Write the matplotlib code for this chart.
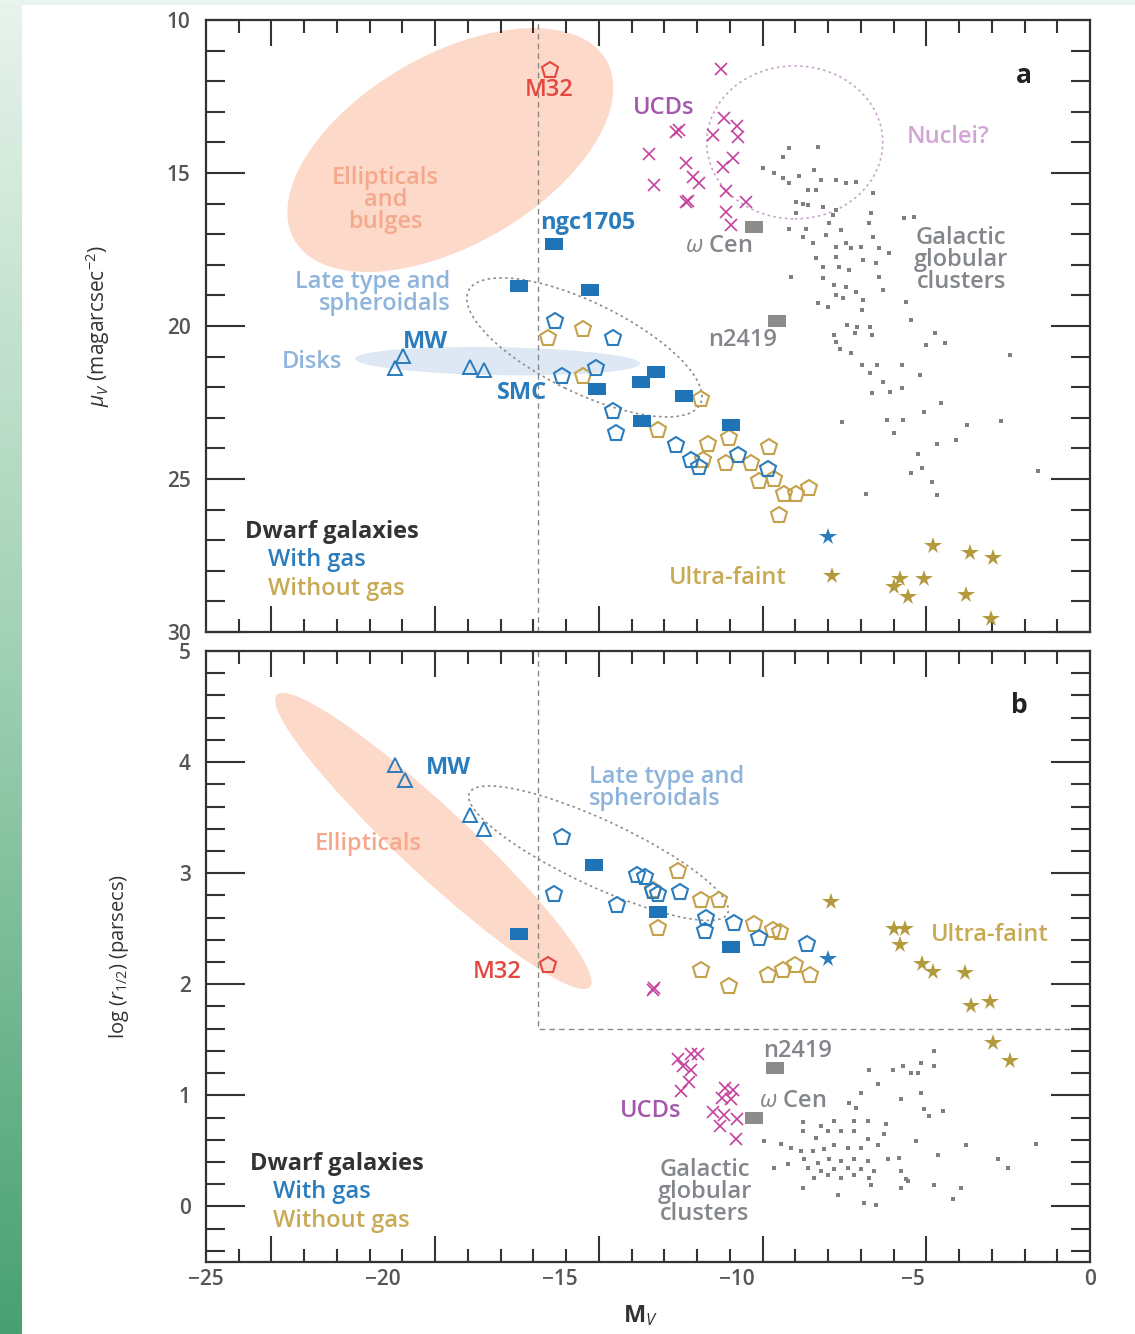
import numpy as np
import matplotlib
matplotlib.use('Agg')
import matplotlib.pyplot as plt
from matplotlib.patches import Ellipse
from matplotlib.transforms import Affine2D, ScaledTranslation
from matplotlib.colors import LinearSegmentedColormap

plt.rcParams['font.family'] = ['Open Sans', 'DejaVu Sans']
plt.rcParams['mathtext.fontset'] = 'custom'
plt.rcParams['mathtext.rm'] = 'Open Sans'
plt.rcParams['mathtext.it'] = 'Open Sans:italic'
plt.rcParams['mathtext.bf'] = 'Open Sans:bold'

# ---------------- panel a : M_V vs mu_V ----------------
m32_a = [(-15.28, 11.63)]
gas_sq_a = [(-15.17, 17.32), (-16.16, 18.69), (-14.15, 18.82), (-13.95, 22.06), (-12.71, 21.83),
            (-12.28, 21.50), (-11.49, 22.29), (-12.68, 23.10), (-10.16, 23.24)]
gas_pent_a = [(-15.14, 19.84), (-13.50, 20.39), (-14.92, 21.63), (-13.98, 21.37), (-13.50, 22.78),
              (-13.41, 23.50), (-11.71, 23.89), (-11.29, 24.38), (-11.06, 24.61), (-9.96, 24.22),
              (-9.11, 24.67)]
nogas_pent_a = [(-15.34, 20.39), (-14.35, 20.10), (-14.35, 21.63), (-11.01, 22.39), (-12.22, 23.40),
                (-10.81, 23.86), (-10.21, 23.66), (-9.08, 23.95), (-10.95, 24.38), (-10.30, 24.48),
                (-9.59, 24.48), (-9.36, 25.07), (-8.94, 25.00), (-8.65, 25.49), (-8.31, 25.49),
                (-7.95, 25.29), (-8.80, 26.18)]
disk_a = [(-19.42, 20.98), (-19.65, 21.37), (-17.52, 21.34), (-17.15, 21.44)]
ucd_a = [(-10.44, 11.60), (-11.71, 13.66), (-11.62, 13.60), (-10.35, 13.20), (-9.99, 13.46),
         (-10.67, 13.76), (-9.96, 13.82), (-12.48, 14.38), (-10.10, 14.51), (-11.43, 14.67),
         (-10.38, 14.80), (-11.23, 15.13), (-11.06, 15.33), (-12.34, 15.39), (-10.30, 15.59),
         (-11.43, 15.95), (-11.36, 15.90), (-9.73, 15.95), (-10.30, 16.27), (-10.16, 16.70)]
uf_nogas_a = [(-7.29, 28.17), (-4.43, 27.19), (-3.39, 27.42), (-2.73, 27.58), (-5.37, 28.27),
              (-4.69, 28.27), (-5.54, 28.53), (-5.14, 28.86), (-3.50, 28.79), (-2.79, 29.58)]
uf_gas_a = [(-7.41, 26.90)]
big_gc_a = [(-9.50, 16.76), (-8.85, 19.84)]   # omega Cen, NGC 2419
gc_a = [(-8.51, 14.18), (-7.69, 14.15), (-8.68, 14.48), (-9.25, 14.84), (-8.94, 15.00), (-8.68, 15.16),
        (-8.51, 15.33), (-8.23, 15.10), (-7.80, 14.90), (-7.61, 15.23), (-7.18, 15.23), (-6.90, 15.33),
        (-6.61, 15.29), (-7.97, 15.56), (-7.75, 15.56), (-6.13, 15.65), (-8.31, 15.95), (-8.12, 16.01),
        (-7.97, 16.05), (-7.55, 16.11), (-7.18, 16.21), (-8.31, 16.31), (-7.27, 16.37), (-6.19, 16.31),
        (-8.51, 16.83), (-8.03, 16.83), (-7.38, 16.63), (-7.04, 16.86), (-6.25, 16.63), (-5.25, 16.47),
        (-4.97, 16.44), (-8.12, 17.09), (-7.83, 17.29), (-7.46, 17.03), (-7.18, 17.42), (-6.90, 17.29),
        (-6.76, 17.45), (-6.47, 17.42), (-6.13, 17.09), (-5.96, 17.45), (-5.68, 17.61), (-7.75, 17.78),
        (-7.55, 18.07), (-7.18, 17.75), (-7.10, 18.07), (-6.81, 18.17), (-6.42, 17.84), (-6.05, 17.94),
        (-8.46, 18.40), (-7.55, 18.43), (-7.24, 18.66), (-6.90, 18.73), (-6.61, 18.89), (-5.96, 18.40),
        (-5.85, 18.82), (-7.18, 18.99), (-6.42, 19.15), (-7.69, 19.25), (-6.98, 19.08), (-5.20, 19.22),
        (-7.41, 19.38), (-6.44, 19.48), (-5.06, 19.80), (-6.87, 19.97), (-6.59, 20.03), (-6.22, 20.03),
        (-7.24, 20.29), (-6.64, 20.23), (-6.16, 20.29), (-7.18, 20.52), (-4.38, 20.23), (-4.09, 20.56),
        (-7.07, 20.75), (-6.76, 20.88), (-4.63, 20.62), (-2.25, 20.95), (-6.44, 21.27), (-6.02, 21.27),
        (-5.31, 21.27), (-6.22, 21.54), (-5.85, 21.83), (-4.80, 21.60), (-6.16, 22.19), (-5.65, 22.16),
        (-5.31, 22.03), (-4.69, 22.81), (-4.21, 22.52), (-7.01, 23.14), (-5.74, 23.07), (-5.28, 23.07),
        (-3.47, 23.24), (-2.51, 23.10), (-5.54, 23.50), (-4.32, 23.86), (-3.78, 23.73), (-4.86, 24.18),
        (-5.06, 24.80), (-4.75, 24.64), (-4.46, 25.10), (-1.46, 24.74), (-6.33, 25.49), (-4.32, 25.52)]

# ---------------- panel b : M_V vs log r_1/2 ----------------
m32_b = [(-15.34, 2.17)]
gas_sq_b = [(-14.04, 3.07), (-16.16, 2.45), (-12.22, 2.65), (-10.16, 2.34)]
gas_pent_b = [(-14.92, 3.33), (-15.17, 2.81), (-12.82, 2.98), (-12.59, 2.97), (-12.37, 2.84),
              (-12.22, 2.81), (-11.60, 2.83), (-13.39, 2.71), (-10.86, 2.60), (-10.89, 2.48),
              (-10.07, 2.55), (-9.36, 2.42), (-8.00, 2.36)]
nogas_pent_b = [(-11.66, 3.02), (-11.01, 2.76), (-10.50, 2.76), (-12.37, 2.85), (-12.22, 2.51),
                (-9.50, 2.54), (-8.97, 2.49), (-8.77, 2.47), (-11.01, 2.13), (-10.21, 1.98),
                (-9.11, 2.08), (-8.68, 2.13), (-8.34, 2.17), (-7.92, 2.08)]
disk_b = [(-19.65, 3.97), (-19.36, 3.84), (-17.52, 3.52), (-17.15, 3.40)]
ucd_b = [(-12.37, 1.95), (-12.33, 1.97), (-11.66, 1.33), (-11.29, 1.37), (-11.09, 1.37), (-11.52, 1.26),
         (-11.29, 1.23), (-11.35, 1.12), (-11.57, 1.04), (-10.33, 1.07), (-10.10, 1.05), (-10.41, 0.98),
         (-10.16, 0.97), (-10.67, 0.85), (-10.35, 0.82), (-9.99, 0.79), (-10.47, 0.72), (-10.01, 0.61)]
uf_nogas_b = [(-7.32, 2.74), (-5.54, 2.50), (-5.23, 2.50), (-5.37, 2.35), (-4.75, 2.18), (-4.43, 2.11),
              (-3.53, 2.10), (-3.36, 1.80), (-2.82, 1.84), (-2.73, 1.47), (-2.25, 1.31)]
uf_gas_b = [(-7.41, 2.23)]
big_gc_b = [(-9.50, 0.80), (-8.91, 1.25)]   # omega Cen, NGC 2419
gc_b = [(-4.41, 1.40), (-6.25, 1.23), (-5.57, 1.23), (-5.28, 1.26), (-5.06, 1.20), (-4.86, 1.20),
        (-4.77, 1.29), (-4.41, 1.26), (-5.99, 1.10), (-6.47, 1.02), (-5.34, 0.97), (-4.77, 1.02),
        (-6.81, 0.93), (-6.61, 0.89), (-4.69, 0.88), (-4.55, 0.81), (-4.15, 0.86), (-8.12, 0.76),
        (-7.61, 0.72), (-7.24, 0.77), (-6.67, 0.77), (-6.27, 0.77), (-5.76, 0.74), (-9.22, 0.59),
        (-8.74, 0.56), (-8.46, 0.53), (-8.12, 0.68), (-7.75, 0.62), (-7.41, 0.68), (-7.04, 0.68),
        (-6.67, 0.68), (-6.27, 0.61), (-5.82, 0.65), (-4.91, 0.59), (-3.50, 0.55), (-1.52, 0.56),
        (-8.17, 0.50), (-7.83, 0.50), (-7.52, 0.52), (-7.24, 0.55), (-6.84, 0.53), (-6.47, 0.53),
        (-5.99, 0.55), (-8.94, 0.35), (-8.54, 0.38), (-8.09, 0.43), (-7.69, 0.39), (-7.38, 0.43),
        (-7.04, 0.41), (-6.67, 0.43), (-6.27, 0.41), (-5.71, 0.43), (-5.40, 0.44), (-4.29, 0.46),
        (-2.59, 0.43), (-7.97, 0.35), (-7.61, 0.32), (-7.24, 0.34), (-6.84, 0.35), (-6.47, 0.34),
        (-6.10, 0.32), (-5.34, 0.32), (-2.31, 0.35), (-7.80, 0.26), (-7.41, 0.28), (-7.04, 0.26),
        (-6.67, 0.28), (-6.25, 0.26), (-5.20, 0.25), (-6.19, 0.19), (-4.41, 0.19), (-3.64, 0.17),
        (-8.12, 0.17), (-7.12, 0.10), (-3.87, 0.07), (-6.39, 0.03), (-6.05, 0.01), (-5.34, 0.17),
        (-5.14, 0.23)]

xtick_vals = [-25, -20, -15, -10, -5, 0]

BLUE = '#2a7cbd'
GOLD = '#c4a24c'
STAR_GOLD = '#b39a3c'
MAG = '#c6419e'
RED = '#e4473f'
GRAY = '#7f7f7f'
DARK = '#333333'
LTBLUE = '#8fb4dc'
SALMON = '#f5a88c'
TXTGRAY = '#83868b'
TXTGOLD = '#c8aa55'
FS = 17
rect = [(-1, -0.68), (1, -0.68), (1, 0.68), (-1, 0.68), (-1, -0.68)]

fig = plt.figure(figsize=(11.35, 13.34), dpi=100)

# green page strip at the left
strip = fig.add_axes([0, 0, 22 / 1135, 1])
grad = np.linspace(0, 1, 256).reshape(-1, 1)
gcm = LinearSegmentedColormap.from_list('g', ['#e8f3ec', '#9fd0b3', '#48a072'])
strip.imshow(grad, aspect='auto', cmap=gcm, extent=[0, 1, 0, 1], origin='upper')
strip.axis('off')
top = fig.add_axes([0, 1 - 5 / 1334, 1, 5 / 1334])
top.axis('off')
top.add_patch(plt.Rectangle((0, 0), 1, 1, color='#eaf4ee', transform=top.transAxes))

ax_a = fig.add_axes([206 / 1135, 1 - 632 / 1334, 884 / 1135, 612 / 1334])
ax_b = fig.add_axes([206 / 1135, 1 - 1262 / 1334, 884 / 1135, 611 / 1334])


def blob(ax, x, y, w, h, ang, **kw):
    # ellipse sized in pixels, centred on a data point
    tr = Affine2D() + ScaledTranslation(x, y, ax.transData)
    e = Ellipse((0, 0), w, h, angle=ang, transform=tr, **kw)
    ax.add_patch(e)


def pts(ax, data, **kw):
    d = np.array(data)
    ax.plot(d[:, 0], d[:, 1], linestyle='none', **kw)


def label(ax, x, y, s, color, ha='center', weight='semibold', size=FS, **kw):
    ax.text(x, y, s, color=color, fontsize=size, ha=ha, va='center', fontweight=weight,
            linespacing=0.88, **kw)


def frame(ax, ylo, yhi, ymajor, yminor):
    ax.set_xlim(-25, 0)
    ax.set_ylim(ylo, yhi)
    n = 27
    pos = [-25 + k * 25 / n for k in range(1, n)]
    ax.set_xticks([p for k, p in enumerate(pos, 1) if k % 5 == 2])
    ax.set_xticks([p for k, p in enumerate(pos, 1) if k % 5 != 2], minor=True)
    ax.set_yticks(ymajor)
    ax.set_yticks(yminor, minor=True)
    ax.tick_params(axis='x', which='major', direction='in', length=19, width=1.5, color=DARK,
                   top=True, bottom=True, labelbottom=False)
    ax.tick_params(axis='x', which='minor', direction='in', length=9.5, width=1.5, color=DARK,
                   top=True, bottom=True)
    ax.tick_params(axis='y', which='major', direction='in', length=28, width=1.5, color=DARK,
                   left=True, right=True, labelsize=15, labelcolor='#555555', pad=11)
    ax.tick_params(axis='y', which='minor', direction='in', length=14, width=1.5, color=DARK,
                   left=True, right=True)
    for t in ax.get_yticklabels():
        t.set_fontweight('semibold')
    for s in ax.spines.values():
        s.set_linewidth(1.6)
        s.set_color(DARK)


def markers(ax, gc, big, ucd, disk, nogas, gas, sq, m32, ufn, ufg):
    pts(ax, gc, marker='s', ms=3, color=GRAY, mew=0, zorder=2)
    pts(ax, big, marker=rect, ms=12.5, color='#8c8c8c', mew=0, zorder=3)
    pts(ax, ucd, marker='x', ms=8.5, mew=1.2, color=MAG, zorder=3)
    pts(ax, disk, marker='^', ms=9.5, mfc='none', mec=BLUE, mew=1.4, zorder=3)
    pts(ax, nogas, marker='p', ms=12, mfc='none', mec=GOLD, mew=1.5, zorder=3)
    pts(ax, gas, marker='p', ms=12, mfc='none', mec=BLUE, mew=1.5, zorder=3)
    pts(ax, sq, marker=rect, ms=12.5, color='#1f74b8', mew=0, zorder=4)
    pts(ax, m32, marker='p', ms=12, mfc='none', mec=RED, mew=1.5, zorder=4)
    pts(ax, ufn, marker='*', ms=13, color=STAR_GOLD, mew=0, zorder=4)
    pts(ax, ufg, marker='*', ms=13, color=BLUE, mew=0, zorder=4)


# ---------------- panel a ----------------
ax = ax_a
frame(ax, 30, 10, [10, 15, 20, 25, 30], np.arange(10, 31, 1))
blob(ax, -18.09, 14.25, 360, 190, 30, facecolor='#fcd9c8', edgecolor='none', zorder=0)
blob(ax, -16.75, 21.15, 285, 28, -1, facecolor='#dde8f4', edgecolor='none', zorder=0)
blob(ax, -14.3, 20.7, 258, 90, -26, facecolor='none', edgecolor='#8c8c8c', lw=1.2,
     linestyle=(0, (1.5, 2)), zorder=1)
blob(ax, -8.35, 14.0, 176, 153, 0, facecolor='none', edgecolor='#c8a3cc', lw=1.2,
     linestyle=(0, (1.5, 2)), zorder=1)
ax.axvline(-15.6, color='#8a8a8a', lw=1, linestyle=(0, (4, 3)), zorder=1)
markers(ax, gc_a, big_gc_a, ucd_a, disk_a, nogas_pent_a, gas_pent_a, gas_sq_a, m32_a,
        uf_nogas_a, uf_gas_a)

label(ax, -19.93, 15.88, 'Ellipticals\nand\nbulges', SALMON)
label(ax, -15.31, 12.3, 'M32', RED)
label(ax, -14.21, 16.63, 'ngc1705', BLUE, weight='bold')
label(ax, -12.05, 12.88, 'UCDs', '#a457ad')
label(ax, -4.01, 13.82, 'Nuclei?', '#d3a5d6')
label(ax, -3.64, 17.84, 'Galactic\nglobular\nclusters', TXTGRAY)
label(ax, -10.5, 17.39, r'$\omega$ Cen', TXTGRAY)
label(ax, -9.82, 20.46, 'n2419', TXTGRAY)
label(ax, -18.8, 20.52, 'MW', BLUE, weight='bold')
label(ax, -16.05, 22.19, 'SMC', BLUE, weight='bold')
label(ax, -22.0, 21.18, 'Disks', LTBLUE)
label(ax, -18.09, 18.92, 'Late type and\nspheroidals', LTBLUE, ha='right')
label(ax, -10.24, 28.24, 'Ultra-faint', TXTGOLD)
label(ax, -1.88, 11.8, 'a', '#222222', weight='bold', size=19)
label(ax, -23.9, 26.73, 'Dwarf galaxies', DARK, ha='left', weight='bold')
label(ax, -23.24, 27.65, 'With gas', BLUE, ha='left')
label(ax, -23.24, 28.59, 'Without gas', TXTGOLD, ha='left')
ax.set_ylabel(r'$\mu_V$ (magarcsec$^{-2}$)', fontsize=15, color=DARK)
ax.yaxis.set_label_coords(-0.106, 0.5)

# ---------------- panel b ----------------
ax = ax_b
frame(ax, -0.5, 5, [0, 1, 2, 3, 4, 5], np.arange(-0.4, 5.0, 0.2))
blob(ax, -18.57, 3.29, 428, 68, -43, facecolor='#fcd9c8', edgecolor='none', zorder=0)
blob(ax, -13.9, 3.18, 285, 66, -25, facecolor='none', edgecolor='#8c8c8c', lw=1.2,
     linestyle=(0, (1.5, 2)), zorder=1)
ax.plot([-15.6, -15.6, 0], [5, 1.6, 1.6], color='#8a8a8a', lw=1, linestyle=(0, (4, 3)), zorder=1)
markers(ax, gc_b, big_gc_b, ucd_b, disk_b, nogas_pent_b, gas_pent_b, gas_sq_b, m32_b,
        uf_nogas_b, uf_gas_b)

label(ax, -18.14, 3.95, 'MW', BLUE, weight='bold')
label(ax, -14.18, 3.77, 'Late type and\nspheroidals', LTBLUE, ha='left')
label(ax, -20.41, 3.26, 'Ellipticals', SALMON)
label(ax, -16.76, 2.11, 'M32', RED)
label(ax, -4.49, 2.44, 'Ultra-faint', TXTGOLD, ha='left')
label(ax, -8.26, 1.40, 'n2419', TXTGRAY)
label(ax, -12.42, 0.86, 'UCDs', '#a457ad')
label(ax, -8.4, 0.95, r'$\omega$ Cen', TXTGRAY)
label(ax, -10.89, 0.13, 'Galactic\nglobular\nclusters', TXTGRAY)
label(ax, -2.0, 4.51, 'b', '#222222', weight='bold', size=19)
label(ax, -23.75, 0.38, 'Dwarf galaxies', DARK, ha='left', weight='bold')
label(ax, -23.1, 0.13, 'With gas', BLUE, ha='left')
label(ax, -23.1, -0.13, 'Without gas', TXTGOLD, ha='left')
for v in xtick_vals:
    ax.text(v, -0.011, '\u2212%d' % -v if v else '0', transform=ax.get_xaxis_transform(),
            ha='center', va='top', fontsize=15, color='#555555', fontweight='semibold')
ax.set_ylabel(r'log ($r_{1/2}$) (parsecs)', fontsize=14.5, color=DARK)
ax.yaxis.set_label_coords(-0.085, 0.5)
ax.set_xlabel(r'$\mathbf{M}_{V}$', fontsize=17, color=DARK)
ax.xaxis.set_label_coords(0.491, -0.068)

fig.savefig('out.png', dpi=100)
